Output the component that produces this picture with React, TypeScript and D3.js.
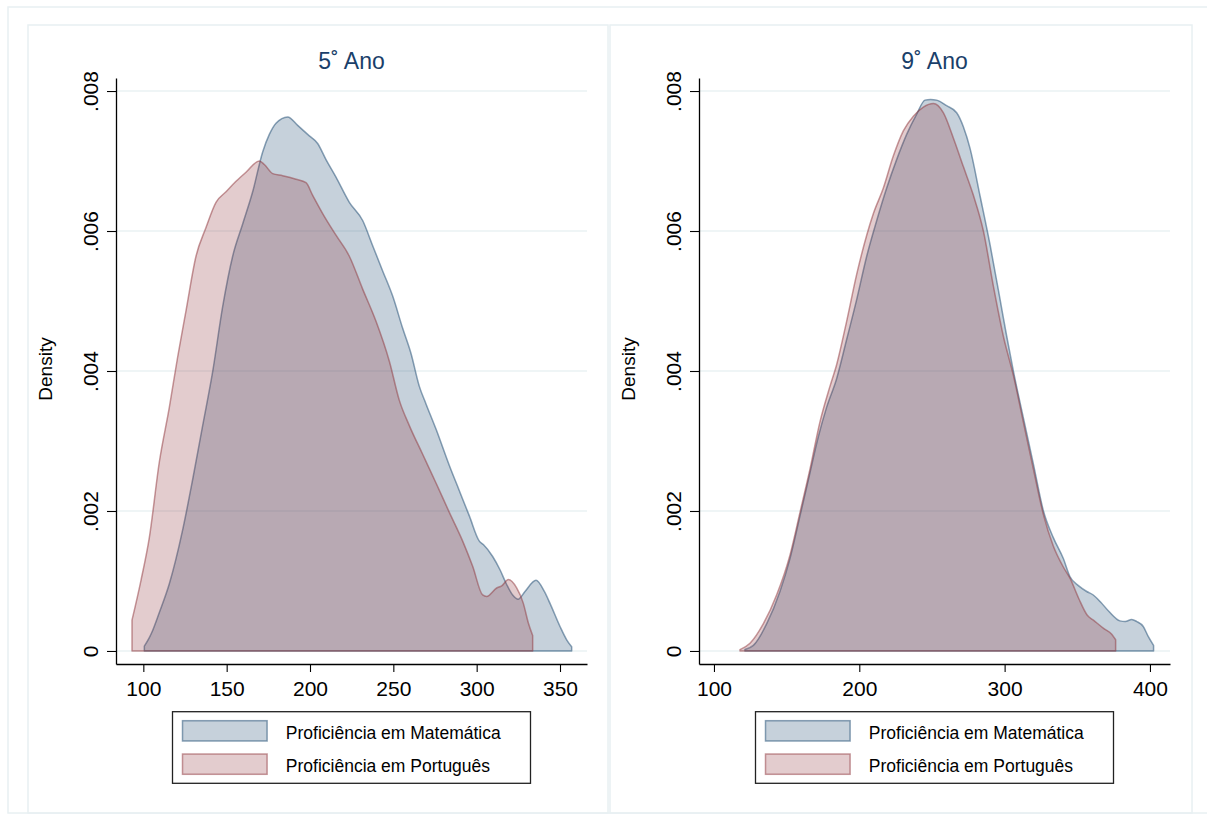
import React, { useEffect, useRef } from 'react';
import * as d3 from 'd3';

const W = 1207;
const H = 820;

const panelTitles = ['5˚ Ano', '9˚ Ano'];
const legendLabels = ['Proficiência em Matemática', 'Proficiência em Português'];
const yTicks = [0, 0.002, 0.004, 0.006, 0.008];
const xTicks5 = [100, 150, 200, 250, 300, 350];
const xTicks9 = [100, 200, 300, 400];

// 5˚ Ano - Matemática
const mat5Score = [100.6, 103.6, 105, 109.6, 115.6, 123.6, 129.6, 135.6, 141.6, 147.6, 153.6, 159.6, 165.6, 171.6, 175.6, 179.6, 186.6, 192.6, 198.6, 204.6, 209.6, 215.6, 223.6, 231.6, 237.6, 243.6, 249.6, 255.6, 260.6, 265.6, 269.6, 275.6, 283.6, 289.6, 295.6, 301.6, 304, 309.6, 314, 318, 321.6, 325, 329, 335.6, 340.6, 344, 350, 354, 357];
const mat5Density = [0.00007, 0.00019, 0.00026, 0.00055, 0.00096, 0.00173, 0.00245, 0.00322, 0.00399, 0.00492, 0.00564, 0.0061, 0.00656, 0.00713, 0.00738, 0.00754, 0.00763, 0.00751, 0.00738, 0.00725, 0.00702, 0.00677, 0.00641, 0.00615, 0.00579, 0.00543, 0.00507, 0.00461, 0.00425, 0.00378, 0.00353, 0.00317, 0.00265, 0.00229, 0.00193, 0.00157, 0.00152, 0.00135, 0.00116, 0.00095, 0.0008, 0.00074, 0.00085, 0.00101, 0.00085, 0.00068, 0.00035, 0.00016, 0.00006];

// 5˚ Ano - Português
const por5Score = [93.2, 98.6, 103.6, 109.6, 115.6, 120.6, 125.6, 131.6, 137.6, 143.6, 149.6, 155.6, 161.6, 169.6, 172.6, 177.6, 183.6, 191.6, 197.6, 201.6, 207.6, 215.6, 223.6, 231.6, 239.6, 247.6, 253.6, 259.6, 267.6, 275.6, 283.6, 291.6, 297.6, 303.6, 306, 312, 315, 319, 324, 328, 331, 333.6];
const por5Density = [0.00044, 0.00101, 0.00162, 0.0027, 0.00348, 0.0042, 0.00486, 0.00564, 0.00605, 0.00641, 0.00656, 0.00671, 0.00684, 0.007, 0.00695, 0.00682, 0.00679, 0.00674, 0.00669, 0.00651, 0.00625, 0.00594, 0.00564, 0.00517, 0.00471, 0.00414, 0.00358, 0.00322, 0.00281, 0.0024, 0.00198, 0.00157, 0.00121, 0.0008, 0.00078, 0.0009, 0.00093, 0.00102, 0.0009, 0.00068, 0.0004, 0.00022];

// 9˚ Ano - Matemática
const mat9Score = [121.3, 127.1, 136.3, 145.4, 152.3, 159.2, 166.1, 171.8, 177.5, 184.4, 191.3, 198.2, 205.1, 212, 218.8, 225.7, 232.6, 239.5, 245.2, 249, 253.2, 260.1, 267, 271.6, 276.2, 283.1, 290, 296.8, 301.4, 306, 312.9, 319.8, 326.7, 333.5, 340.4, 345, 351, 356.5, 361, 366, 372, 379.4, 383, 387.4, 391, 395.4, 399, 402.5];
const mat9Density = [0.00002, 0.00008, 0.00039, 0.00085, 0.00132, 0.00193, 0.00255, 0.00306, 0.00348, 0.00389, 0.00445, 0.00502, 0.00564, 0.00615, 0.00661, 0.00702, 0.00738, 0.00767, 0.00787, 0.00788, 0.00787, 0.00779, 0.00769, 0.00749, 0.00718, 0.0065, 0.0058, 0.00503, 0.0045, 0.004, 0.00333, 0.00267, 0.002, 0.00162, 0.00132, 0.00106, 0.00093, 0.00085, 0.0008, 0.0007, 0.00056, 0.00043, 0.00042, 0.00045, 0.00042, 0.00035, 0.0002, 0.00008];

// 9˚ Ano - Português
const por9Score = [117.9, 124.8, 134, 143.1, 152.3, 159.2, 166.1, 172.9, 179.8, 184.4, 191.3, 198.2, 205.1, 209.7, 216.5, 223.4, 230.3, 237.2, 244.1, 251, 257.8, 264.7, 271.6, 278.5, 285.4, 292.2, 299.1, 306, 312.9, 319.8, 326.7, 333.5, 340.4, 345, 351, 356.9, 361.1, 368.3, 373.7, 376.4];
const por9Density = [0.00002, 0.00011, 0.00039, 0.0008, 0.00137, 0.00198, 0.0026, 0.00327, 0.00378, 0.00409, 0.00471, 0.00538, 0.00594, 0.00625, 0.00661, 0.00707, 0.00743, 0.00764, 0.00777, 0.00782, 0.00769, 0.00733, 0.00692, 0.00651, 0.006, 0.00522, 0.0045, 0.00394, 0.00327, 0.0026, 0.00195, 0.0015, 0.0012, 0.00104, 0.00075, 0.00051, 0.00044, 0.00032, 0.00024, 0.00016];

const BLUE = 'rgb(26,71,111)';
const RED = 'rgb(144,53,59)';
const FONT = '"Liberation Sans", Arial, Helvetica, sans-serif';

const App = () => {
  const svgRef = useRef(null);

  useEffect(() => {
    const svg = d3.select(svgRef.current);
    svg.selectAll('*').remove();

    const top = 78;
    const bottom = 664;
    const y = d3.scaleLinear().domain([-0.000186, 0.008186]).range([bottom, top]);

    // outer graph region and the two panel frames
    svg.append('rect')
      .attr('x', 8).attr('y', 7).attr('width', 1220).attr('height', 806)
      .attr('fill', 'none').attr('stroke', '#e8f0f2').attr('stroke-width', 1.5);

    const panels = [
      {
        title: panelTitles[0], frame: [28, 608], domain: [83.6, 366.2], range: [116, 587], ticks: xTicks5,
        series: [[mat5Score, mat5Density], [por5Score, por5Density]],
      },
      {
        title: panelTitles[1], frame: [610, 1192], domain: [89.7, 413.8], range: [699, 1170], ticks: xTicks9,
        series: [[mat9Score, mat9Density], [por9Score, por9Density]],
      },
    ];

    const colors = [BLUE, RED];

    panels.forEach((p) => {
      const g = svg.append('g');
      const x = d3.scaleLinear().domain(p.domain).range(p.range);

      g.append('rect')
        .attr('x', p.frame[0]).attr('y', 25)
        .attr('width', p.frame[1] - p.frame[0]).attr('height', 788)
        .attr('fill', 'none').attr('stroke', '#e8f0f2').attr('stroke-width', 1.5);

      // gridlines
      g.selectAll('.grid')
        .data(yTicks)
        .enter().append('line')
        .attr('x1', p.range[0]).attr('x2', p.range[1])
        .attr('y1', d => y(d)).attr('y2', d => y(d))
        .attr('stroke', '#eaf2f3').attr('stroke-width', 1.6);

      // density areas
      p.series.forEach(([xs, ds], i) => {
        const pts = xs.map((v, k) => [v, ds[k]]);
        const area = d3.area()
          .x(d => x(d[0]))
          .y0(y(0))
          .y1(d => y(d[1]))
          .curve(d3.curveMonotoneX);
        g.append('path')
          .attr('d', area(pts))
          .attr('fill', colors[i]).attr('fill-opacity', 0.25)
          .attr('stroke', colors[i]).attr('stroke-opacity', 0.5)
          .attr('stroke-width', 1.5)
          .attr('stroke-linejoin', 'round');
      });

      // x axis
      const xAxis = g.append('g')
        .attr('transform', `translate(0, ${bottom})`)
        .call(d3.axisBottom(x).tickValues(p.ticks).tickSize(8).tickPadding(9).tickSizeOuter(0));
      xAxis.select('.domain').attr('stroke', '#000').attr('stroke-width', 1.3);
      xAxis.selectAll('.tick line').attr('stroke', '#000').attr('stroke-width', 1.1);
      xAxis.selectAll('text').attr('font-family', FONT).attr('font-size', 21).attr('fill', '#000');

      // y axis
      const yAxis = g.append('g')
        .attr('transform', `translate(${p.range[0]}, 0)`)
        .call(d3.axisLeft(y).tickValues(yTicks).tickSize(9).tickSizeOuter(0)
          .tickFormat(d => (d === 0 ? '0' : d3.format('.3f')(d).replace(/^0/, ''))));
      yAxis.select('.domain').attr('stroke', '#000').attr('stroke-width', 1.3);
      yAxis.selectAll('.tick line').attr('stroke', '#000').attr('stroke-width', 1.1);
      yAxis.selectAll('text')
        .attr('transform', 'rotate(-90)')
        .attr('x', 0).attr('y', -18).attr('dy', 0)
        .attr('text-anchor', 'middle')
        .attr('font-family', FONT).attr('font-size', 21).attr('fill', '#000');

      // y axis label
      g.append('text')
        .attr('transform', `translate(${p.range[0] - 64}, ${(top + bottom) / 2 - 2}) rotate(-90)`)
        .attr('text-anchor', 'middle')
        .attr('font-family', FONT).attr('font-size', 19)
        .text('Density');

      // panel title
      g.append('text')
        .attr('x', (p.range[0] + p.range[1]) / 2).attr('y', 69)
        .attr('text-anchor', 'middle')
        .attr('font-family', FONT).attr('font-size', 23).attr('fill', '#1a3f6a')
        .text(p.title);

      // legend
      const lx = (p.range[0] + p.range[1]) / 2 - 179;
      const lg = g.append('g').attr('transform', `translate(${lx}, 711.7)`);
      lg.append('rect')
        .attr('width', 358).attr('height', 71.6)
        .attr('fill', '#fff').attr('stroke', '#222').attr('stroke-width', 1.3);
      legendLabels.forEach((lab, i) => {
        lg.append('rect')
          .attr('x', 10).attr('y', 9 + i * 33.3)
          .attr('width', 84.6).attr('height', 20.3)
          .attr('fill', colors[i]).attr('fill-opacity', 0.25)
          .attr('stroke', colors[i]).attr('stroke-opacity', 0.5).attr('stroke-width', 1.5);
        lg.append('text')
          .attr('x', 113.3).attr('y', 27.3 + i * 32.7)
          .attr('font-family', FONT).attr('font-size', 17.5).attr('fill', '#000')
          .text(lab);
      });
    });
  }, []);

  return (
    <svg
      ref={svgRef}
      width={W}
      height={H}
      style={{ position: 'absolute', left: 0, top: 0, background: '#fff' }}
    />
  );
};

export default App;
